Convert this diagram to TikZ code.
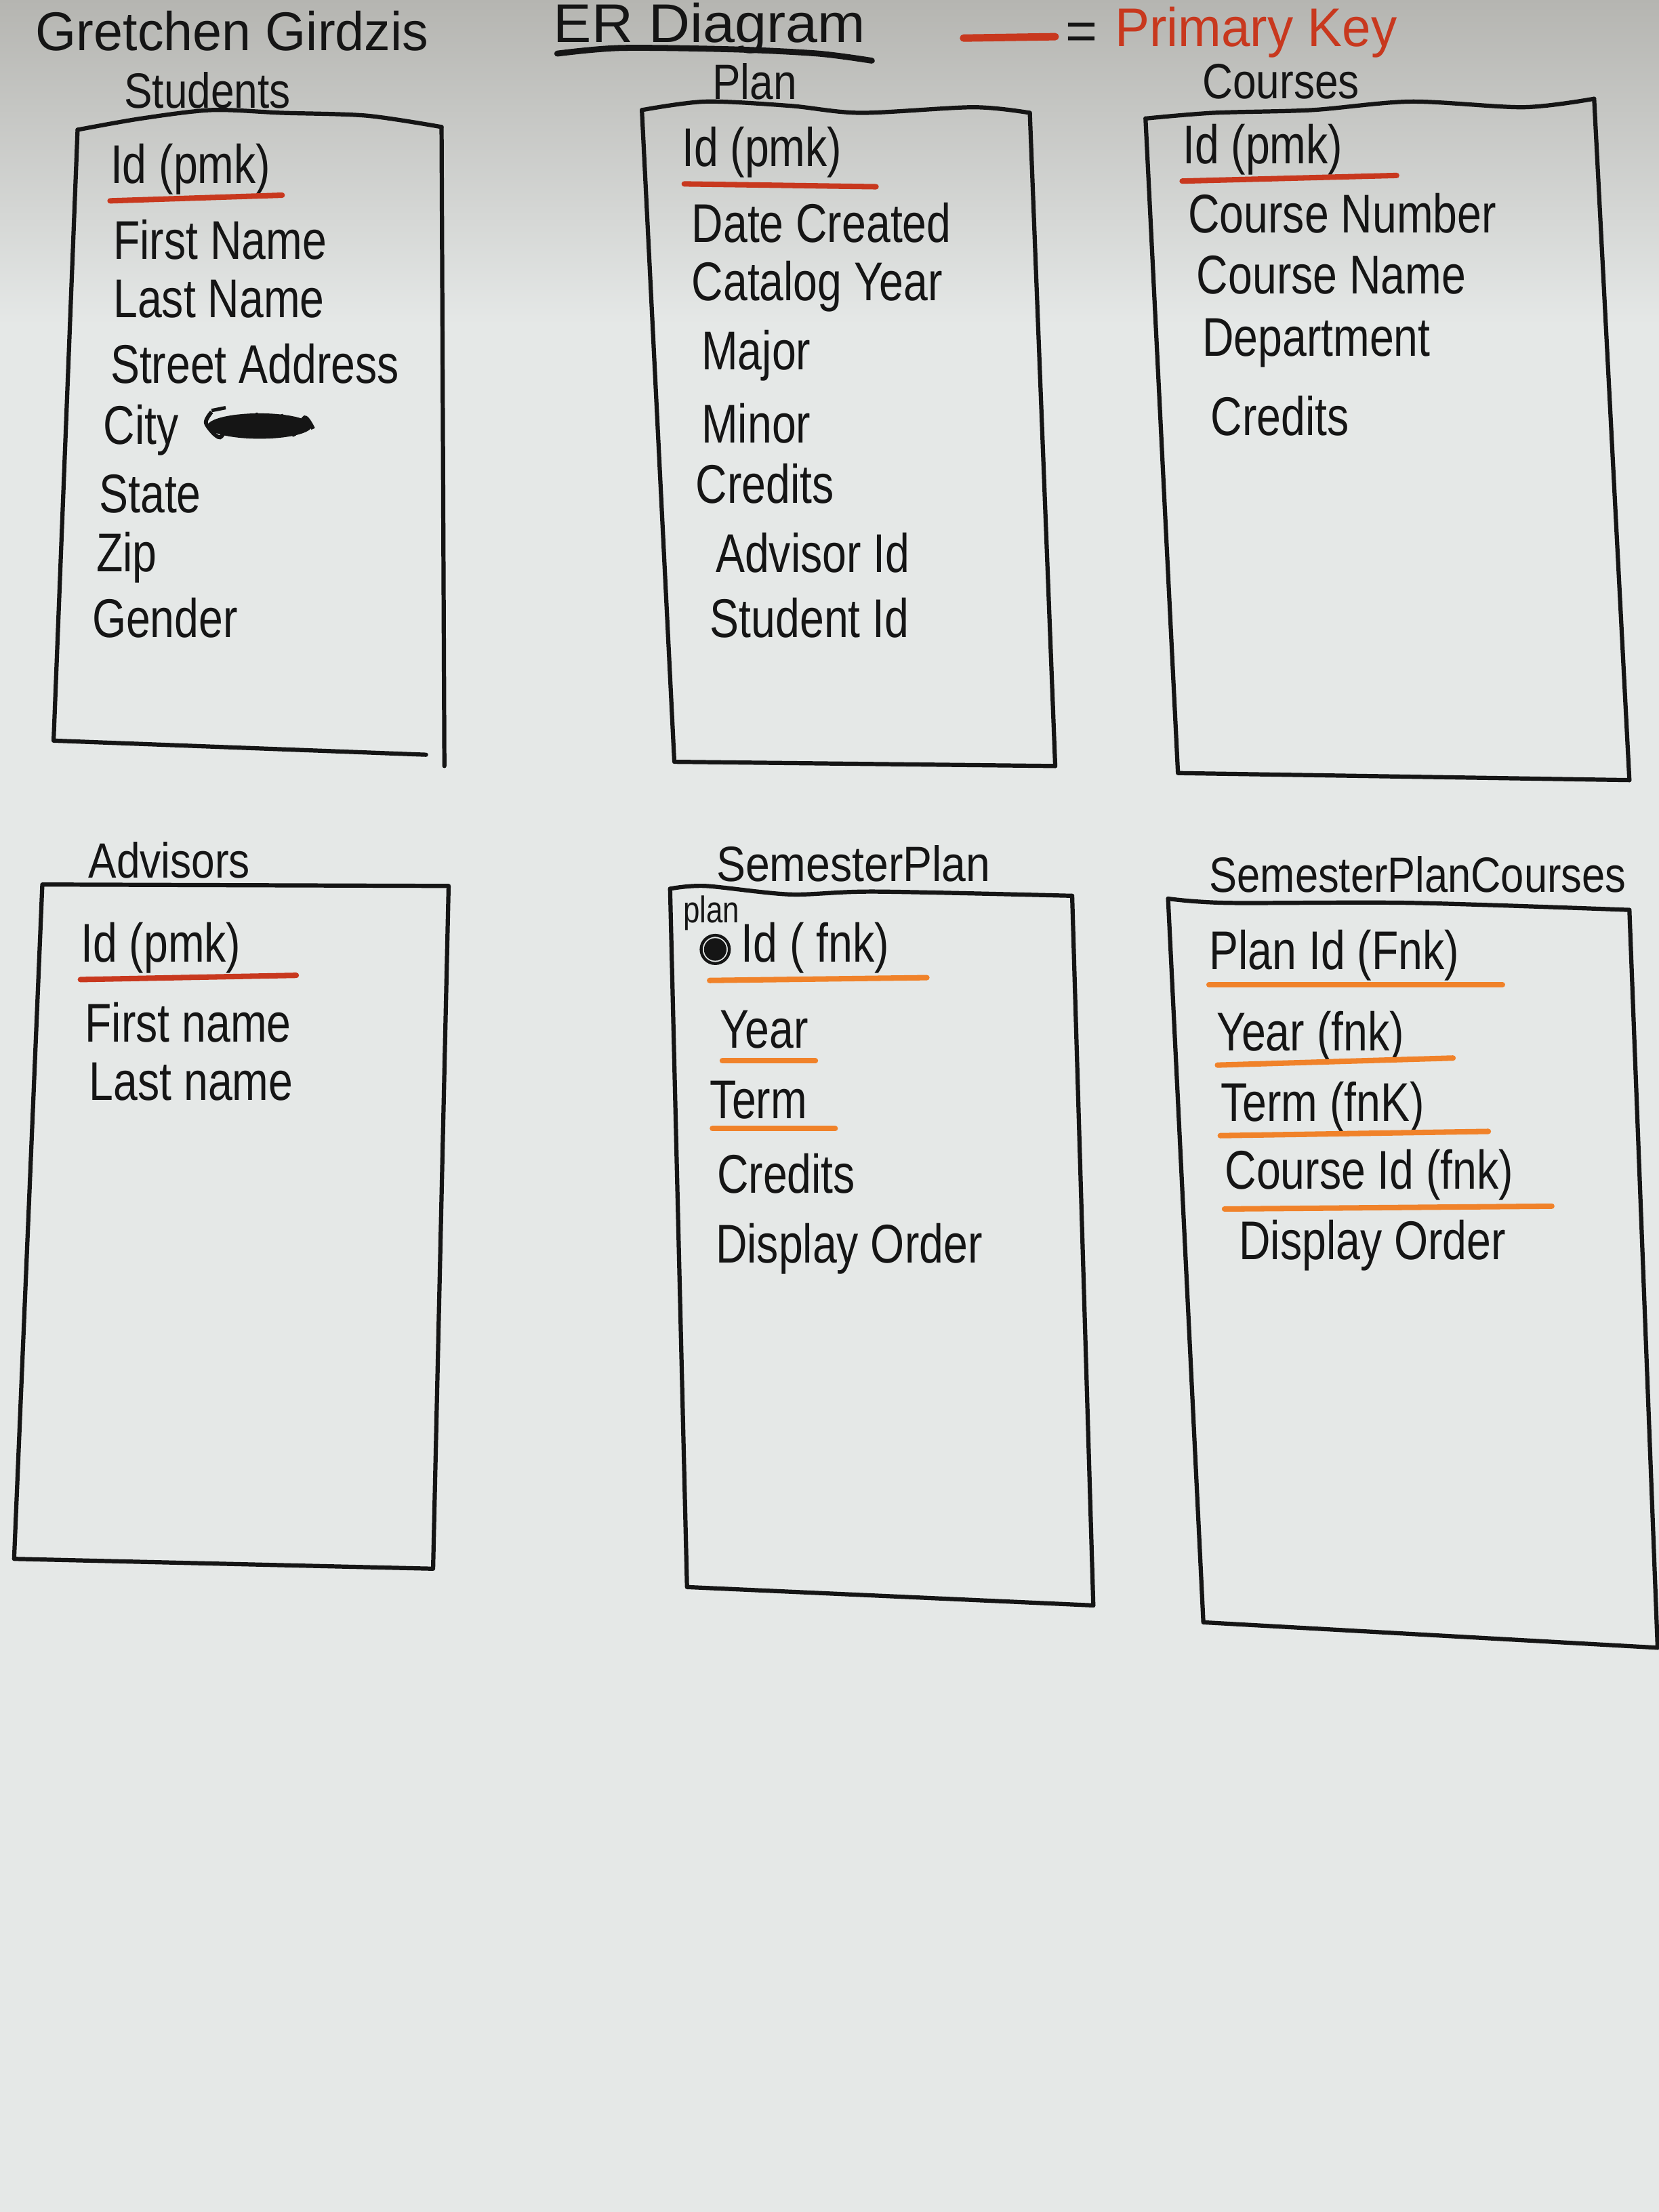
\documentclass[tikz,border=0pt]{standalone}
\usepackage{fontspec}
\setmainfont{Liberation Sans}
\usepackage{graphicx}
\definecolor{pkred}{HTML}{C8381E}
\definecolor{fkorange}{HTML}{F0822A}
\definecolor{paper}{HTML}{E5E8E7}
\definecolor{papertop}{HTML}{B5B5B1}
\definecolor{ink}{HTML}{151515}
\newcommand{\hw}[2][0.8]{\scalebox{#1}[1]{#2}}
\begin{document}
\begin{tikzpicture}[x=0.02cm,y=-0.02cm,
  attr/.style={anchor=west,inner sep=0pt,text=ink,font=\fontsize{22}{26}\selectfont},
  ttl/.style={anchor=center,inner sep=0pt,text=ink,font=\fontsize{20}{24}\selectfont},
  boxline/.style={draw=ink,line width=1.7pt,line join=round,line cap=round},
  pk/.style={draw=pkred,line width=2.2pt,line cap=round},
  fk/.style={draw=fkorange,line width=2.2pt,line cap=round}]
% paper
\fill[paper] (0,0) rectangle (1176,1568);
\shade[top color=papertop,bottom color=paper] (0,0) rectangle (1176,230);
\useasboundingbox (0,0) rectangle (1176,1568);

% header
\node[attr] (author) at (25,22) {\hw[0.96]{Gretchen Girdzis}};
\node[attr] (ertitle) at (392,20) {\hw[1.05]{ER Diagram}};
\draw[ink,line width=2.4pt,line cap=round] plot[smooth] coordinates {(395,38) (440,34) (520,35) (580,38) (618,43)};
\draw[pk,line width=3pt] (683,27) -- (748,26);
\node[attr] (eq) at (755,26) {=};
\node[attr,text=pkred] (pklabel) at (790,23) {\hw[0.95]{Primary Key}};

% ---------- Students ----------
\node[ttl] (studentsT) at (147,64) {\hw[0.85]{Students}};
\draw[boxline] plot[smooth] coordinates {(55,92) (100,84) (150,78) (200,80) (260,82) (313,90)};
\draw[boxline] (55,92) -- (38,525) -- (302,535);
\draw[boxline] (313,90) -- (315,543);
\node[attr] (s1) at (78,120) {\hw{Id (pmk)}};
\draw[pk] (s1.south west) ++(0,4) -- ++(122,-4);
\node[attr] (s2) at (80,170) {\hw{First Name}};
\node[attr] (s3) at (80,212) {\hw{Last Name}};
\node[attr] (s4) at (78,258) {\hw{Street Address}};
\node[attr] (s5) at (73,305) {\hw{City}};
\fill[ink] (184,302) ellipse[x radius=37,y radius=9];
\draw[ink,line width=1.6pt] plot[smooth] coordinates {(150,292) (146,300) (156,310) (165,296) (172,308) (182,294) (190,309) (200,295) (208,308) (216,296) (222,304)};
\draw[ink,line width=1.4pt] (150,291) -- (160,289);
\node[attr] (s6) at (70,350) {\hw{State}};
\node[attr] (s7) at (68,395) {\hw{Zip}};
\node[attr] (s8) at (65,438) {\hw{Gender}};

% ---------- Plan ----------
\node[ttl] (planT) at (535,58) {\hw[0.85]{Plan}};
\draw[boxline] plot[smooth] coordinates {(455,78) (500,72) (560,75) (610,80) (690,76) (730,80)};
\draw[boxline] (455,78) -- (478,540) -- (748,543);
\draw[boxline] (730,80) -- (748,543);
\node[attr] (p1) at (483,108) {\hw{Id (pmk)}};
\draw[pk] (p1.south west) ++(2,4) -- ++(136,2);
\node[attr] (p2) at (490,158) {\hw{Date Created}};
\node[attr] (p3) at (490,203) {\hw{Catalog Year}};
\node[attr] (p4) at (497,252) {\hw{Major}};
\node[attr] (p5) at (497,300) {\hw{Minor}};
\node[attr] (p6) at (493,343) {\hw{Credits}};
\node[attr] (p7) at (507,392) {\hw{Advisor Id}};
\node[attr] (p8) at (503,438) {\hw{Student Id}};

% ---------- Courses ----------
\node[ttl] (coursesT) at (908,58) {\hw[0.85]{Courses}};
\draw[boxline] plot[smooth] coordinates {(812,84) (860,80) (930,78) (1000,72) (1080,76) (1130,70)};
\draw[boxline] (812,84) -- (835,548) -- (1155,553);
\draw[boxline] (1130,70) -- (1155,553);
\node[attr] (c1) at (838,106) {\hw{Id (pmk)}};
\draw[pk] (c1.south west) ++(0,4) -- ++(152,-4);
\node[attr] (c2) at (842,151) {\hw{Course Number}};
\node[attr] (c3) at (848,195) {\hw{Course Name}};
\node[attr] (c4) at (852,243) {\hw{Department}};
\node[attr] (c5) at (858,295) {\hw{Credits}};

% ---------- Advisors ----------
\node[ttl] (advT) at (120,610) {\hw[0.85]{Advisors}};
\draw[boxline] (30,627) -- (318,628) -- (307,1112) -- (10,1105) -- cycle;
\node[attr] (a1) at (57,672) {\hw{Id (pmk)}};
\draw[pk] (a1.south west) ++(0,4) -- ++(153,-3);
\node[attr] (a2) at (60,725) {\hw{First name}};
\node[attr] (a3) at (63,767) {\hw{Last name}};

% ---------- SemesterPlan ----------
\node[ttl] (spT) at (605,612) {\hw[0.88]{SemesterPlan}};
\draw[boxline] plot[smooth] coordinates {(475,630) (500,628) (560,634) (620,632) (760,635)};
\draw[boxline] (475,630) -- (487,1125) -- (775,1138);
\draw[boxline] (760,635) -- (775,1138);
\node[attr,font=\fontsize{15}{18}\selectfont] (spplan) at (484,647) {\hw{plan}};
\fill[ink] (507,673) circle[radius=8];
\draw[ink,line width=1.2pt] (507,673) circle[radius=10];
\node[attr] (sp1) at (525,672) {\hw{Id ( fnk)}};
\draw[fk] (503,695) -- (657,693);
\node[attr] (sp2) at (510,730) {\hw{Year}};
\draw[fk] (512,752) -- (578,752);
\node[attr] (sp3) at (503,780) {\hw{Term}};
\draw[fk] (505,800) -- (592,800);
\node[attr] (sp4) at (508,832) {\hw{Credits}};
\node[attr] (sp5) at (507,885) {\hw{Display Order}};

% ---------- SemesterPlanCourses ----------
\node[ttl] (spcT) at (1005,620) {\hw[0.84]{SemesterPlanCourses}};
\draw[boxline] plot[smooth] coordinates {(828,637) (870,640) (1000,640) (1155,645)};
\draw[boxline] (828,637) -- (853,1150) -- (1175,1168);
\draw[boxline] (1155,645) -- (1175,1168);
\node[attr] (q1) at (857,677) {\hw{Plan Id (Fnk)}};
\draw[fk] (857,698) -- (1065,698);
\node[attr] (q2) at (862,735) {\hw{Year (fnk)}};
\draw[fk] (863,755) -- (1030,750);
\node[attr] (q3) at (865,785) {\hw{Term (fnK)}};
\draw[fk] (865,805) -- (1055,802);
\node[attr] (q4) at (868,833) {\hw{Course Id (fnk)}};
\draw[fk] (868,857) -- (1100,855);
\node[attr] (q5) at (878,883) {\hw{Display Order}};
\end{tikzpicture}
\end{document}
